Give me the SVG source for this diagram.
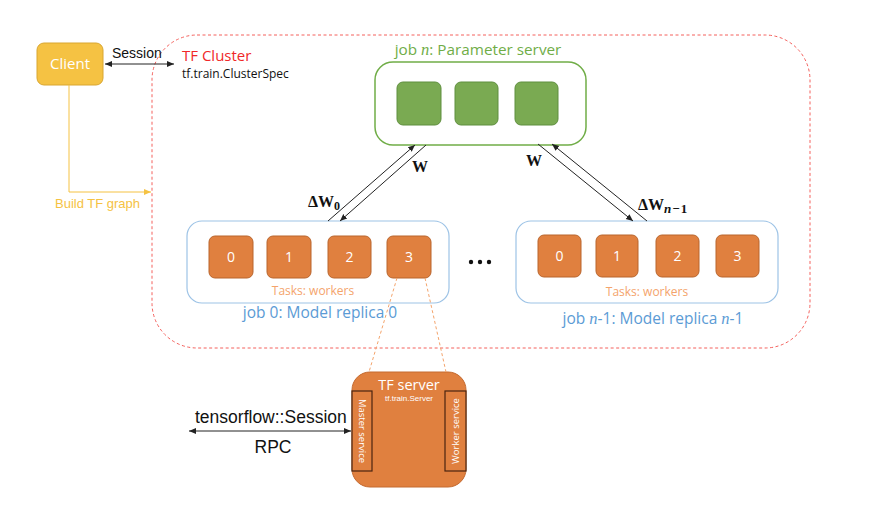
<svg xmlns="http://www.w3.org/2000/svg" width="874" height="528" viewBox="0 0 874 528">
<style>
.lato{font-family:"Open Sans",Lato,"Liberation Sans",sans-serif}
.arial{font-family:"Liberation Sans",Arial,sans-serif}
.math{font-family:"Liberation Serif","DejaVu Serif",serif;font-weight:bold}
.mi{font-family:"Liberation Serif","DejaVu Serif",serif;font-style:italic}
.ps{fill:#7AAA52;stroke:#5F8F3E;stroke-width:1}
.wk{fill:#E0803F;stroke:#B9652D;stroke-width:1}
.num{fill:#fff;font-size:14px;text-anchor:middle}
.tasks{fill:#F4A46C;font-size:12px;text-anchor:middle}
.joblbl{fill:#5B9BD5;font-size:15.5px;text-anchor:middle}
.rep{fill:#fff;stroke:#9DC3E6;stroke-width:1.2}
.conn{stroke:#222;stroke-width:1;fill:none}
.svc{fill:#E0803F;stroke:#4A2410;stroke-width:1.2}
.svct{fill:#fff;font-size:9.5px;text-anchor:middle}
</style>
<defs>
<marker id="ah" markerWidth="8" markerHeight="8" refX="7" refY="4" orient="auto" markerUnits="userSpaceOnUse">
<path d="M0,1 L7,4 L0,7 Z" fill="#222"/>
</marker>
<marker id="ahs" markerWidth="8" markerHeight="8" refX="1" refY="4" orient="auto" markerUnits="userSpaceOnUse">
<path d="M8,1 L1,4 L8,7 Z" fill="#222"/>
</marker>
<marker id="ay" markerWidth="8" markerHeight="8" refX="7" refY="4" orient="auto" markerUnits="userSpaceOnUse">
<path d="M0,1 L7,4 L0,7 Z" fill="#F5C243"/>
</marker>
</defs>

<g id="cluster">
<rect x="152" y="35" width="658" height="313" rx="45" ry="45" fill="none" stroke="#F4605C" stroke-width="1" stroke-dasharray="3,2.5"/>
<text x="182" y="61" class="lato" font-size="15" fill="#F02828">TF Cluster</text>
<text x="182" y="78" class="lato" font-size="12" fill="#111">tf.train.ClusterSpec</text>
</g>

<g id="client">
<rect x="37" y="43" width="66" height="42" rx="7" ry="7" fill="#F5C243" stroke="#D9A630" stroke-width="1"/>
<text x="70" y="69" class="lato" font-size="15" fill="#fff" text-anchor="middle">Client</text>
</g>

<g id="ps">
<text x="478" y="55" class="lato" font-size="15.3" fill="#70AD47" text-anchor="middle">job <tspan class="mi" font-size="16.5">n</tspan>: Parameter server</text>
<rect x="375" y="62" width="211" height="83" rx="18" ry="18" fill="#fff" stroke="#70AD47" stroke-width="1.5"/>
<rect x="397" y="82" width="44" height="43" rx="6" class="ps"/>
<rect x="455" y="82" width="43" height="43" rx="6" class="ps"/>
<rect x="515" y="82" width="43" height="43" rx="6" class="ps"/>
</g>

<g id="replica0">
<rect x="187" y="221" width="262" height="82" rx="15" ry="15" class="rep"/>
<rect x="209" y="236" width="44" height="42" rx="6" class="wk"/>
<rect x="267" y="236" width="44" height="42" rx="6" class="wk"/>
<rect x="328" y="236" width="43" height="42" rx="6" class="wk"/>
<rect x="387" y="236" width="44" height="42" rx="6" class="wk"/>
<text x="231" y="262" class="lato num">0</text>
<text x="289" y="262" class="lato num">1</text>
<text x="349.5" y="262" class="lato num">2</text>
<text x="409" y="262" class="lato num">3</text>
<text x="313" y="295" class="lato tasks">Tasks: workers</text>
<text x="320" y="318" class="lato joblbl">job 0: Model replica 0</text>
</g>

<g id="ellipsis">
<circle cx="471" cy="262" r="2.2" fill="#111"/>
<circle cx="480" cy="262" r="2.2" fill="#111"/>
<circle cx="489" cy="262" r="2.2" fill="#111"/>
</g>

<g id="replicaN">
<rect x="516" y="221" width="262" height="82" rx="15" ry="15" class="rep"/>
<rect x="538" y="235" width="43" height="42" rx="6" class="wk"/>
<rect x="596" y="235" width="42" height="42" rx="6" class="wk"/>
<rect x="656" y="235" width="43" height="42" rx="6" class="wk"/>
<rect x="716" y="235" width="43" height="42" rx="6" class="wk"/>
<text x="559.5" y="261" class="lato num">0</text>
<text x="617" y="261" class="lato num">1</text>
<text x="677.5" y="261" class="lato num">2</text>
<text x="737.5" y="261" class="lato num">3</text>
<text x="647" y="296" class="lato tasks">Tasks: workers</text>
<text x="653" y="324" class="lato joblbl">job <tspan class="mi" font-size="16.5">n</tspan>-1: Model replica <tspan class="mi" font-size="16.5">n</tspan>-1</text>
</g>

<g id="tfserver">
<rect x="352" y="372" width="114" height="115" rx="18" ry="18" fill="#E0803F" stroke="#C46A30" stroke-width="1"/>
<text x="409" y="390" class="lato" font-size="14.5" fill="#fff" text-anchor="middle">TF server</text>
<text x="409" y="401" class="arial" font-size="8" fill="#fff" text-anchor="middle">tf.train.Server</text>
<rect x="352" y="391" width="20" height="80" class="svc"/>
<rect x="445" y="391" width="21" height="80" class="svc"/>
<text class="lato svct" transform="translate(359,431) rotate(90)">Master service</text>
<text class="lato svct" transform="translate(458.5,431) rotate(-90)">Worker service</text>
</g>

<g id="connectors">
<line x1="105" y1="64" x2="174" y2="64" class="conn" marker-start="url(#ahs)" marker-end="url(#ah)"/>
<text x="112" y="58" class="arial" font-size="14" fill="#111">Session</text>
<polyline points="69,85 69,192 151,192" fill="none" stroke="#F5C243" stroke-width="1" marker-end="url(#ay)"/>
<text x="55" y="208" class="arial" font-size="13" fill="#F5C243">Build TF graph</text>

<line x1="328" y1="221" x2="415" y2="145" class="conn" marker-end="url(#ah)"/>
<line x1="426" y1="145" x2="340" y2="221" class="conn" marker-end="url(#ah)"/>
<text x="412" y="172" class="math" font-size="16" fill="#111">W</text>
<text x="308" y="207" class="math" font-size="16" fill="#111">ΔW<tspan font-size="12" dy="3">0</tspan></text>

<line x1="538" y1="144" x2="633" y2="221" class="conn" marker-end="url(#ah)"/>
<line x1="647" y1="221" x2="552" y2="144" class="conn" marker-end="url(#ah)"/>
<text x="526" y="166" class="math" font-size="16" fill="#111">W</text>
<text x="638" y="210" class="math" font-size="16" fill="#111">ΔW<tspan font-size="13" dy="3" font-style="italic">n</tspan><tspan font-size="13" dx="1">−</tspan><tspan font-size="13" dx="1">1</tspan></text>

<line x1="397" y1="278" x2="369" y2="372" stroke="#F4A46C" stroke-width="1" stroke-dasharray="3,2.5"/>
<line x1="425" y1="278" x2="446" y2="372" stroke="#F4A46C" stroke-width="1" stroke-dasharray="3,2.5"/>

<line x1="189" y1="431" x2="351" y2="431" class="conn" marker-start="url(#ahs)" marker-end="url(#ah)"/>
<text x="195" y="423" class="arial" font-size="17.5" fill="#111">tensorflow::Session</text>
<text x="273" y="453" class="arial" font-size="17.5" fill="#111" text-anchor="middle">RPC</text>
</g>
</svg>
